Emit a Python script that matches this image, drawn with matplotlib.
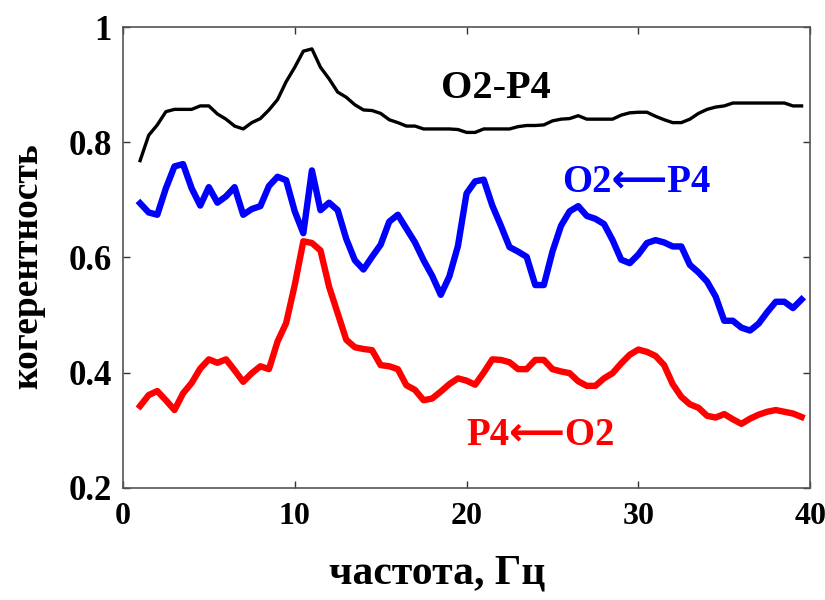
import numpy as np
import matplotlib
matplotlib.use('Agg')
import matplotlib.pyplot as plt
from matplotlib.ticker import FuncFormatter

# frequency grid, Hz (0.5 Hz steps from 1 to 39.5)
freq = np.arange(1.0, 40.0, 0.5)

# O2-P4 coherence (black)
coh_o2_p4 = [0.768, 0.812, 0.830, 0.853, 0.857, 0.857, 0.857, 0.863, 0.863, 0.849,
             0.840, 0.828, 0.823, 0.834, 0.841, 0.856, 0.874, 0.905, 0.930, 0.958,
             0.962, 0.930, 0.910, 0.887, 0.878, 0.865, 0.856, 0.855, 0.850, 0.839,
             0.834, 0.828, 0.828, 0.823, 0.823, 0.823, 0.823, 0.822, 0.817, 0.817,
             0.823, 0.823, 0.823, 0.823, 0.827, 0.829, 0.829, 0.830, 0.837, 0.840,
             0.841, 0.846, 0.840, 0.840, 0.840, 0.840, 0.847, 0.851, 0.852, 0.852,
             0.845, 0.839, 0.834, 0.834, 0.840, 0.850, 0.857, 0.861, 0.863, 0.868,
             0.868, 0.868, 0.868, 0.868, 0.868, 0.868, 0.863, 0.863]

# O2<-P4 directed coherence (blue)
coh_o2_from_p4 = [0.694, 0.678, 0.674, 0.720, 0.758, 0.762, 0.720, 0.690, 0.722, 0.695,
                  0.706, 0.722, 0.674, 0.684, 0.689, 0.724, 0.740, 0.734, 0.680, 0.642,
                  0.751, 0.682, 0.695, 0.682, 0.632, 0.595, 0.579, 0.601, 0.622, 0.662,
                  0.674, 0.650, 0.626, 0.595, 0.568, 0.535, 0.567, 0.620, 0.711, 0.732,
                  0.735, 0.690, 0.655, 0.618, 0.610, 0.601, 0.552, 0.552, 0.610, 0.655,
                  0.680, 0.689, 0.672, 0.667, 0.658, 0.630, 0.596, 0.590, 0.605, 0.625,
                  0.630, 0.626, 0.619, 0.619, 0.587, 0.574, 0.558, 0.532, 0.490, 0.490,
                  0.478, 0.473, 0.485, 0.505, 0.523, 0.523, 0.512, 0.527]

# P4<-O2 directed coherence (red)
coh_p4_from_o2 = [0.342, 0.361, 0.368, 0.352, 0.335, 0.364, 0.382, 0.407, 0.423, 0.417,
                  0.423, 0.404, 0.384, 0.399, 0.411, 0.406, 0.454, 0.486, 0.552, 0.628,
                  0.625, 0.612, 0.549, 0.503, 0.457, 0.444, 0.441, 0.439, 0.413, 0.411,
                  0.406, 0.378, 0.370, 0.352, 0.355, 0.367, 0.380, 0.390, 0.386, 0.379,
                  0.400, 0.423, 0.422, 0.418, 0.406, 0.406, 0.422, 0.422, 0.406, 0.402,
                  0.399, 0.385, 0.377, 0.377, 0.390, 0.399, 0.416, 0.431, 0.440, 0.436,
                  0.429, 0.413, 0.380, 0.358, 0.345, 0.339, 0.325, 0.322, 0.328, 0.319,
                  0.311, 0.320, 0.327, 0.332, 0.335, 0.332, 0.329, 0.323]

x_ticks = [0, 10, 20, 30, 40]
y_ticks = [0.2, 0.4, 0.6, 0.8, 1.0]

serif = ['Liberation Serif', 'DejaVu Sans']
plt.rcParams['font.family'] = serif
plt.rcParams['font.weight'] = 'bold'


def format_ticks(val, pos):
    # matlab-like labels: 1 instead of 1.0
    return '{:g}'.format(round(val, 2))


fig = plt.figure(figsize=(8.25, 6), dpi=100)
ax = fig.add_axes([0.149, 0.187, 0.833, 0.768])

ax.plot(freq, coh_o2_p4, color='black', lw=2.4, solid_joinstyle='round')
ax.plot(freq, coh_o2_from_p4, color='#0000ff', lw=4.6, solid_joinstyle='round')
ax.plot(freq, coh_p4_from_o2, color='#ff0000', lw=4.6, solid_joinstyle='round')

ax.text(21.7, 0.894, 'O2-P4', color='black', fontsize=29, fontweight='bold',
        ha='center', va='center', family=serif)
ax.text(29.9, 0.730, 'O2\u27f5P4', color='#0000ff', fontsize=28, fontweight='bold',
        ha='center', va='center', family=serif)
ax.text(24.3, 0.290, 'P4\u27f5O2', color='#ff0000', fontsize=28, fontweight='bold',
        ha='center', va='center', family=serif)

ax.set_xlim(0, 40)
ax.set_ylim(0.2, 1.0)
ax.set_xticks(x_ticks)
ax.set_yticks(y_ticks)
ax.xaxis.set_major_formatter(FuncFormatter(format_ticks))
ax.yaxis.set_major_formatter(FuncFormatter(format_ticks))

for sp in ax.spines.values():
    sp.set_color('#555555')
    sp.set_linewidth(1.2)

ax.tick_params(direction='in', length=5, width=1.0, color='#333333',
               top=True, right=True)
ax.tick_params(axis='x', pad=10, labelsize=23)
ax.tick_params(axis='y', pad=8, labelsize=25)
for lab in ax.get_xticklabels() + ax.get_yticklabels():
    lab.set_fontweight('bold')

ax.set_xlabel('частота, Гц', fontsize=30, fontweight='bold')
ax.xaxis.set_label_coords(0.458, -0.145)
ax.set_ylabel('когерентность', fontsize=27, fontweight='bold')
ax.yaxis.set_label_coords(-0.113, 0.48)

plt.savefig('out.png', dpi=100)
